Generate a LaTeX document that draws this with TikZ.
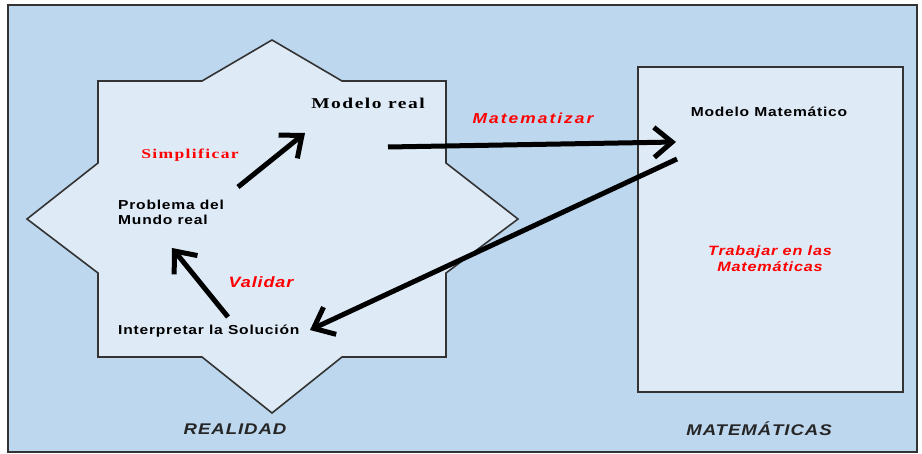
\documentclass[tikz,border=0pt]{standalone}
\usepackage{fontspec}
\setmainfont{Liberation Serif}
\setsansfont{Liberation Sans}
\newfontfamily\widesans[FakeStretch=1.2,LetterSpace=6]{Liberation Sans}
\newfontfamily\wideserif[FakeStretch=1.3,LetterSpace=10]{Liberation Serif}
\usetikzlibrary{arrows.meta}
\definecolor{bgblue}{HTML}{BDD7EE}
\definecolor{inblue}{HTML}{DEEAF6}
\definecolor{lblred}{HTML}{FF0000}
\begin{document}
\begin{tikzpicture}[x=1pt,y=-1pt,
  shapeline/.style={draw=black!80, line width=1.6pt, fill=inblue, line join=miter},
  thickarrow/.style={line width=5pt, -{Straight Barb[length=18pt,width=30pt]}},
  blk/.style={font=\widesans\bfseries\fontsize{13}{15}\selectfont, align=left, inner sep=0pt},
  serifblk/.style={font=\wideserif\bfseries\fontsize{15}{16}\selectfont, inner sep=0pt},
  redser/.style={font=\wideserif\bfseries\fontsize{13.5}{16}\selectfont, text=lblred, inner sep=0pt},
  redit/.style={font=\widesans\bfseries\itshape\fontsize{14}{16}\selectfont, text=lblred, inner sep=0pt, align=center},
  caption/.style={font=\widesans\bfseries\itshape\fontsize{15.5}{16}\selectfont, text=black!85, inner sep=0pt}
]
\useasboundingbox (0,0) rectangle (922,454);
\fill[white] (0,0) rectangle (922,454);
\fill[bgblue] (8,5) rectangle (917,452);
\draw[black!80, line width=1.6pt] (8,5) rectangle (917,452);

% star
\draw[shapeline] (272,40) -- (342,81) -- (446,81) -- (446,163) -- (518,219)
  -- (446,273) -- (446,357) -- (342,357) -- (272,413) -- (202,357)
  -- (98,357) -- (98,273) -- (27,219) -- (98,163) -- (98,81) -- (202,81) -- cycle;

% math rectangle
\draw[shapeline] (638,67) rectangle (903,392);

% texts
\node[serifblk] (modreal) at (368,103) {Modelo real};
\node[redser] (simp) at (190,155) {Simplificar};
\node[blk, anchor=west] (prob) at (118,212.5) {Problema del\\Mundo real};
\node[redit, font=\widesans\bfseries\itshape\fontsize{15}{16}\selectfont] (valid) at (261,282) {Validar};
\node[blk, anchor=west] (interp) at (118,331) {Interpretar la Solución};
\node[redit, font=\widesans\bfseries\itshape\fontsize{14.5}{16}\selectfont\addfontfeature{LetterSpace=14}] (matz) at (533,118) {Matematizar};
\node[blk] (modmat) at (769,112) {Modelo Matemático};
\node[redit, font=\widesans\bfseries\itshape\fontsize{13.5}{16}\selectfont] (trab) at (770,259) {Trabajar en las\\Matemáticas};
\node[caption] (real) at (235,429) {REALIDAD};
\node[caption] (mates) at (759,429) {MATEMÁTICAS};

% arrow endpoints
\coordinate (s1) at (238,187);
\coordinate (s2) at (305,133);
\coordinate (v1) at (228,317);
\coordinate (v2) at (172,248);
\coordinate (m1) at (388,147);
\coordinate (m2) at (676,142);
\coordinate (r1) at (677,159);
\coordinate (r2) at (310,330);

\draw[thickarrow] (s1) -- (s2);
\draw[thickarrow] (v1) -- (v2);
\draw[thickarrow] (m1) -- (m2);
\draw[thickarrow] (r1) -- (r2);
\end{tikzpicture}
\end{document}
